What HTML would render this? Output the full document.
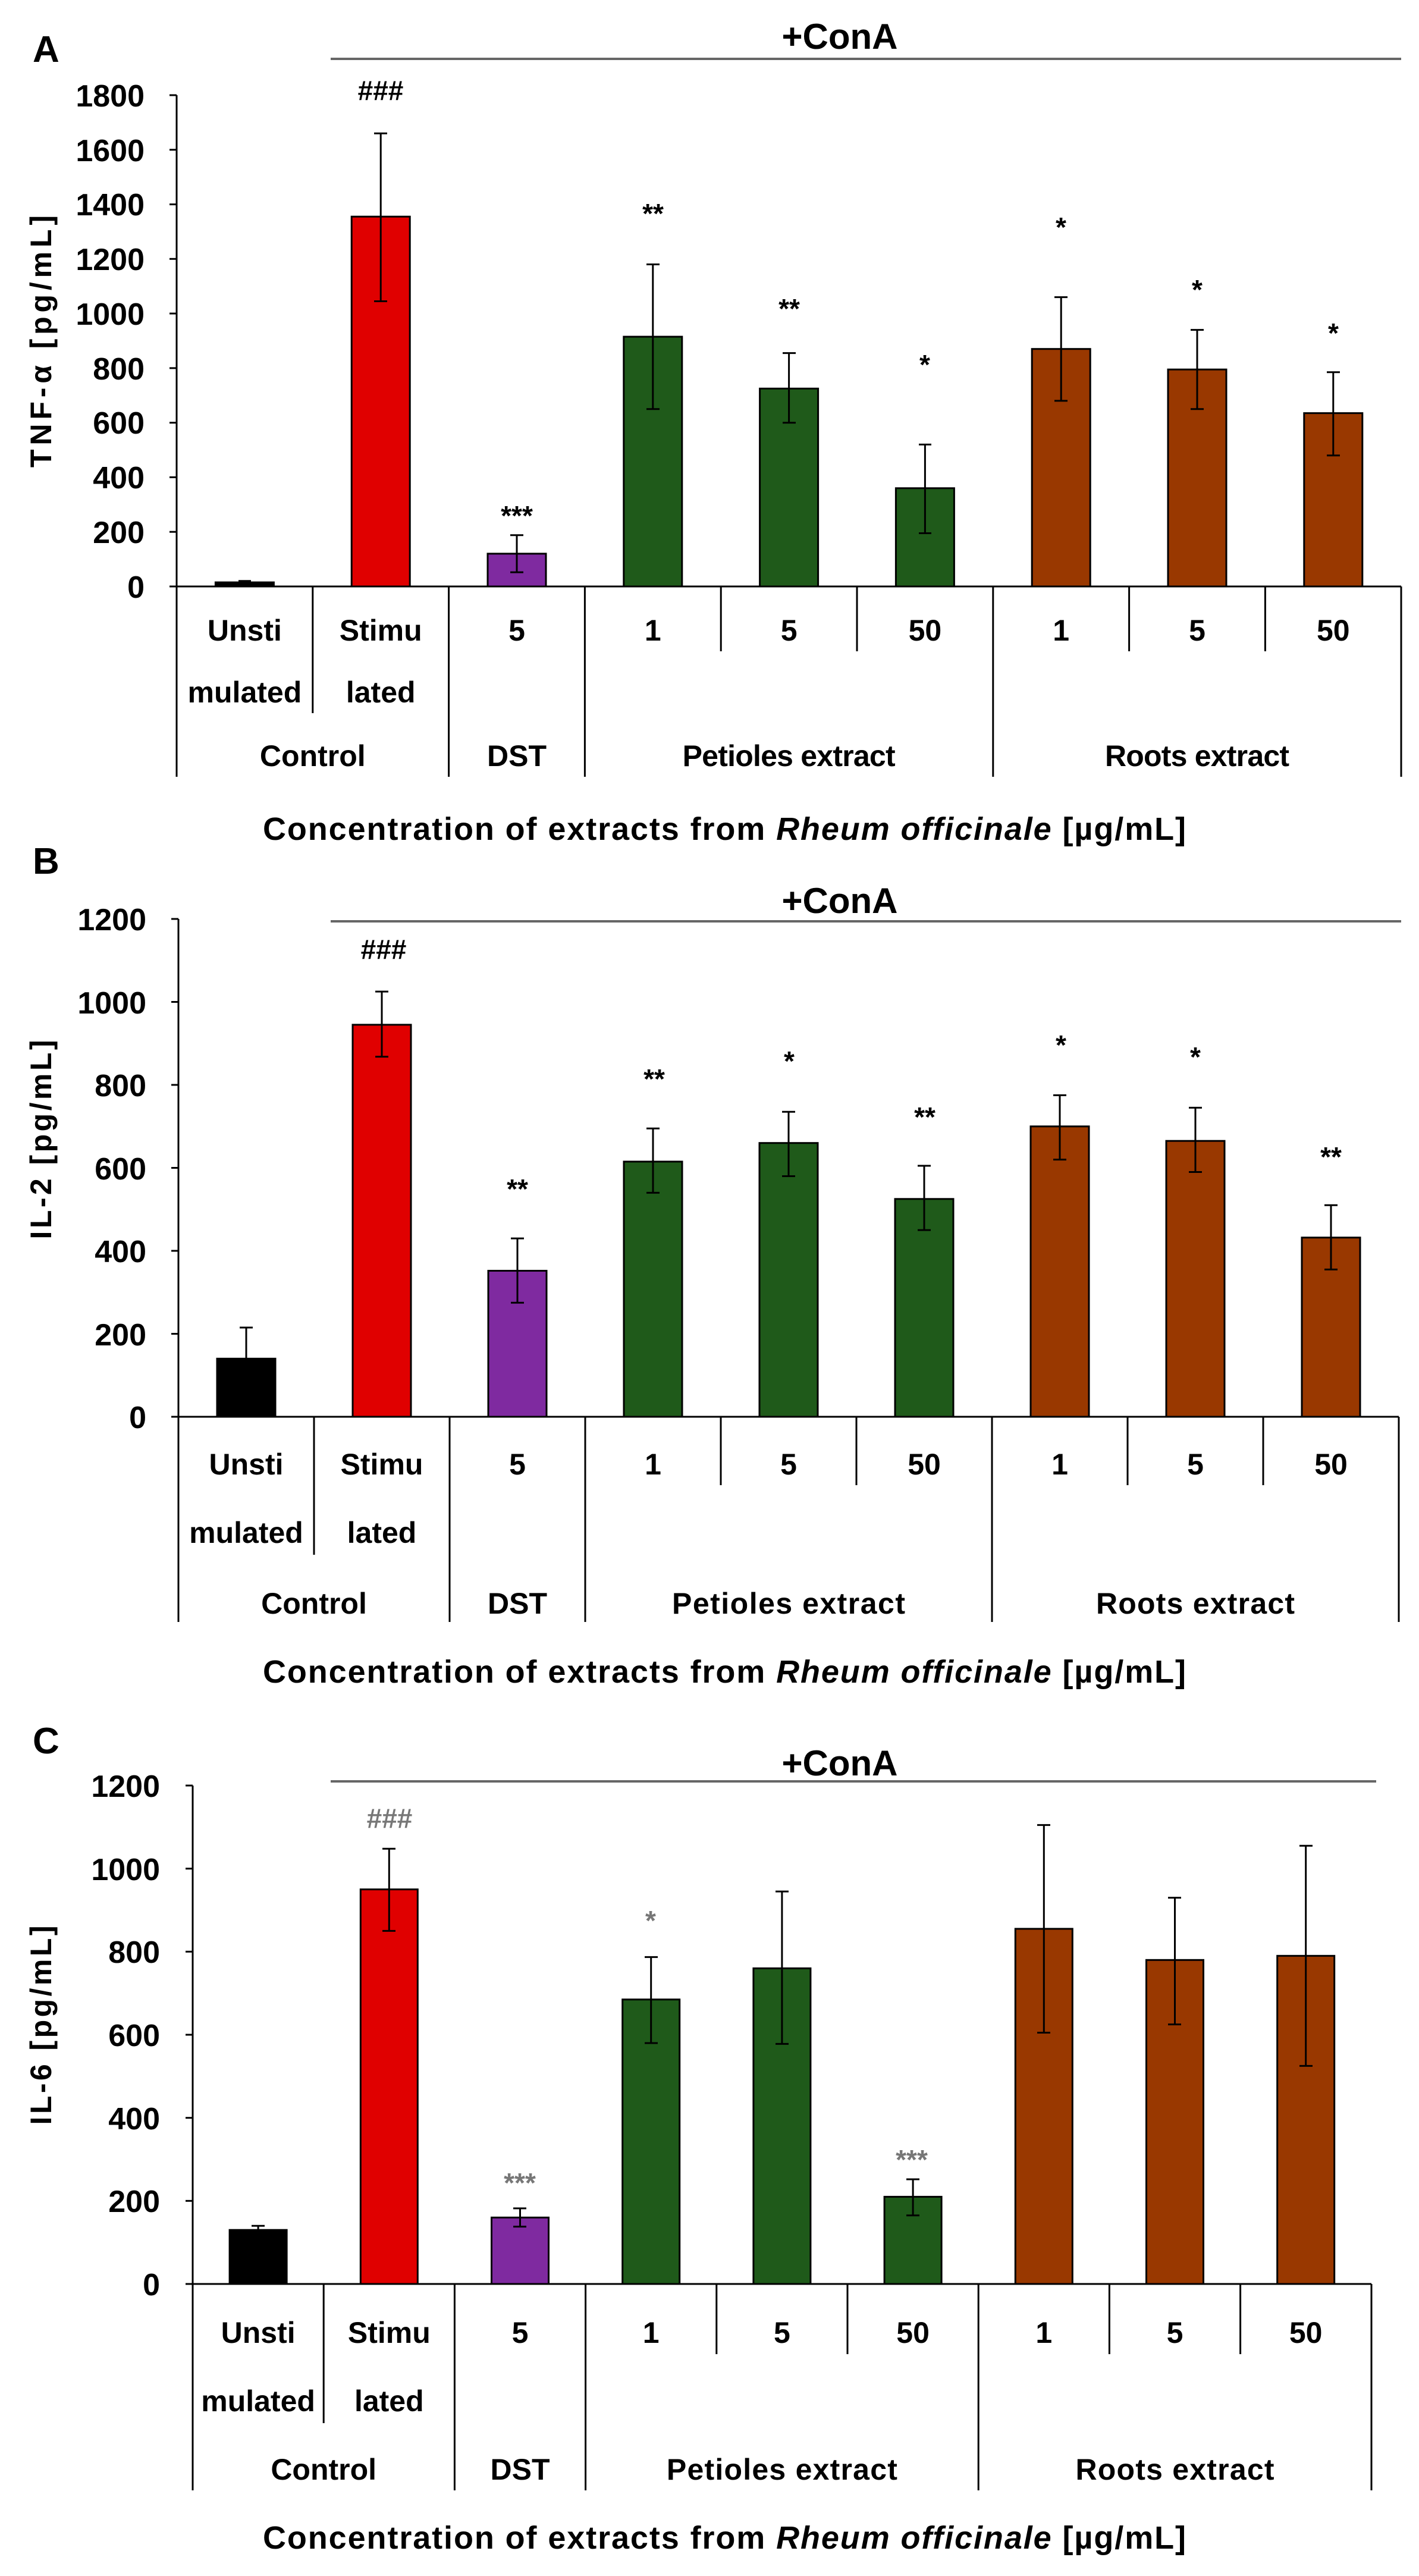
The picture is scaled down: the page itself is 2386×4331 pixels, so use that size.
<!DOCTYPE html>
<html><head><meta charset="utf-8"><style>
html,body{margin:0;padding:0;background:#fff}
svg{display:block}
text{font-family:"Liberation Sans",sans-serif;fill:#000}
.t{font-size:52px;font-weight:bold;text-anchor:end}
.c{font-size:50px;font-weight:bold;text-anchor:middle}
.g{font-size:50px;font-weight:bold;text-anchor:middle}
.a{font-size:46px;font-weight:bold;text-anchor:middle}
.ag{font-size:46px;font-weight:bold;text-anchor:middle;fill:#777}
.p{font-size:62px;font-weight:bold}
.y{font-size:50px;font-weight:bold;text-anchor:middle}
.x{font-size:54px;font-weight:bold;text-anchor:middle}
.cn{font-size:60px;font-weight:bold;text-anchor:middle}
line{stroke:#000;stroke-width:3}
.bar{stroke:#000;stroke-width:3}
.e{stroke:#000;stroke-width:3}
</style></head><body>
<svg width="2386" height="4331" viewBox="0 0 2386 4331" xmlns="http://www.w3.org/2000/svg">

<!-- ========== PANEL A ========== -->
<text class="p" x="55" y="104">A</text>
<text class="cn" x="1412" y="82">+ConA</text>
<line x1="556" y1="99" x2="2356" y2="99" style="stroke:#666;stroke-width:4"/>
<text class="y" transform="translate(86,574) rotate(-90)" textLength="424">TNF-α [pg/mL]</text>
<!-- ticks -->
<line x1="297" y1="160" x2="297" y2="986"/>
<g>
<line x1="285" y1="160" x2="297" y2="160"/><line x1="285" y1="251.8" x2="297" y2="251.8"/><line x1="285" y1="343.6" x2="297" y2="343.6"/><line x1="285" y1="435.3" x2="297" y2="435.3"/><line x1="285" y1="527.1" x2="297" y2="527.1"/><line x1="285" y1="618.9" x2="297" y2="618.9"/><line x1="285" y1="710.7" x2="297" y2="710.7"/><line x1="285" y1="802.4" x2="297" y2="802.4"/><line x1="285" y1="894.2" x2="297" y2="894.2"/><line x1="285" y1="986" x2="297" y2="986"/>
</g>
<text class="t" x="243" y="179">1800</text><text class="t" x="243" y="271">1600</text><text class="t" x="243" y="362">1400</text><text class="t" x="243" y="454">1200</text><text class="t" x="243" y="546">1000</text><text class="t" x="243" y="638">800</text><text class="t" x="243" y="729">600</text><text class="t" x="243" y="821">400</text><text class="t" x="243" y="913">200</text><text class="t" x="243" y="1005">0</text>
<!-- bars -->
<rect class="bar" x="362.4" y="979.1" width="98" height="6.9" fill="#000"/>
<rect class="bar" x="591.2" y="364.2" width="98" height="621.8" fill="#e00000"/>
<rect class="bar" x="820" y="930.9" width="98" height="55.1" fill="#7f2aa0"/>
<rect class="bar" x="1048.8" y="566.1" width="98" height="419.9" fill="#1f5a1a"/>
<rect class="bar" x="1277.6" y="653.3" width="98" height="332.7" fill="#1f5a1a"/>
<rect class="bar" x="1506.4" y="820.8" width="98" height="165.2" fill="#1f5a1a"/>
<rect class="bar" x="1735.2" y="586.7" width="98" height="399.3" fill="#993800"/>
<rect class="bar" x="1964" y="621.2" width="98" height="364.8" fill="#993800"/>
<rect class="bar" x="2192.8" y="694.6" width="98" height="291.4" fill="#993800"/>
<!-- error bars -->
<g class="e">
<line x1="411.4" y1="976.8" x2="411.4" y2="981.4"/><line x1="401" y1="976.8" x2="422" y2="976.8"/>
<line x1="640.2" y1="224.2" x2="640.2" y2="506.5"/><line x1="629" y1="224.2" x2="651" y2="224.2"/><line x1="629" y1="506.5" x2="651" y2="506.5"/>
<line x1="869" y1="899.7" x2="869" y2="962.1"/><line x1="858" y1="899.7" x2="880" y2="899.7"/><line x1="858" y1="962.1" x2="880" y2="962.1"/>
<line x1="1097.8" y1="444.5" x2="1097.8" y2="687.7"/><line x1="1087" y1="444.5" x2="1109" y2="444.5"/><line x1="1087" y1="687.7" x2="1109" y2="687.7"/>
<line x1="1326.6" y1="593.6" x2="1326.6" y2="710.7"/><line x1="1316" y1="593.6" x2="1338" y2="593.6"/><line x1="1316" y1="710.7" x2="1338" y2="710.7"/>
<line x1="1555.4" y1="747.4" x2="1555.4" y2="896.5"/><line x1="1545" y1="747.4" x2="1566" y2="747.4"/><line x1="1545" y1="896.5" x2="1566" y2="896.5"/>
<line x1="1784.2" y1="499.6" x2="1784.2" y2="673.9"/><line x1="1773" y1="499.6" x2="1795" y2="499.6"/><line x1="1773" y1="673.9" x2="1795" y2="673.9"/>
<line x1="2013" y1="554.6" x2="2013" y2="687.7"/><line x1="2002" y1="554.6" x2="2024" y2="554.6"/><line x1="2002" y1="687.7" x2="2024" y2="687.7"/>
<line x1="2241.8" y1="625.8" x2="2241.8" y2="765.7"/><line x1="2231" y1="625.8" x2="2253" y2="625.8"/><line x1="2231" y1="765.7" x2="2253" y2="765.7"/>
</g>
<!-- annotations -->
<text class="a" x="640" y="168">###</text>
<text class="a" x="869" y="883">***</text>
<text class="a" x="1098" y="375">**</text>
<text class="a" x="1327" y="535">**</text>
<text class="a" x="1555" y="629">*</text>
<text class="a" x="1784" y="398">*</text>
<text class="a" x="2013" y="503">*</text>
<text class="a" x="2242" y="576">*</text>
<!-- x axis & table -->
<line x1="297" y1="986" x2="2356" y2="986"/>
<line x1="297" y1="986" x2="297" y2="1306"/>
<line x1="525.8" y1="986" x2="525.8" y2="1199"/>
<line x1="754.6" y1="986" x2="754.6" y2="1306"/>
<line x1="983.4" y1="986" x2="983.4" y2="1306"/>
<line x1="1212.2" y1="986" x2="1212.2" y2="1095"/>
<line x1="1441" y1="986" x2="1441" y2="1095"/>
<line x1="1669.8" y1="986" x2="1669.8" y2="1306"/>
<line x1="1898.6" y1="986" x2="1898.6" y2="1095"/>
<line x1="2127.4" y1="986" x2="2127.4" y2="1095"/>
<line x1="2356" y1="986" x2="2356" y2="1306"/>
<text class="c" x="411.4" y="1077">Unsti</text><text class="c" x="640.2" y="1077">Stimu</text><text class="c" x="869" y="1077">5</text><text class="c" x="1097.8" y="1077">1</text><text class="c" x="1326.6" y="1077">5</text><text class="c" x="1555.4" y="1077">50</text><text class="c" x="1784.2" y="1077">1</text><text class="c" x="2013" y="1077">5</text><text class="c" x="2241.8" y="1077">50</text>
<text class="c" x="411.4" y="1181">mulated</text><text class="c" x="640.2" y="1181">lated</text>
<text class="g" x="525.8" y="1288">Control</text><text class="g" x="869" y="1288">DST</text><text class="g" x="1326.6" y="1288" textLength="358">Petioles extract</text><text class="g" x="2013" y="1288" textLength="310">Roots extract</text>
<text class="x" x="1218" y="1412" textLength="1552">Concentration of extracts from <tspan font-style="italic">Rheum officinale</tspan> [µg/mL]</text>

<!-- ========== PANEL B ========== -->
<text class="p" x="55" y="1469">B</text>
<text class="cn" x="1412" y="1535">+ConA</text>
<line x1="556" y1="1549" x2="2356" y2="1549" style="stroke:#666;stroke-width:4"/>
<text class="y" transform="translate(86,1916) rotate(-90)" textLength="335">IL-2 [pg/mL]</text>
<line x1="300" y1="1545" x2="300" y2="2382"/>
<line x1="288" y1="1545" x2="300" y2="1545"/><line x1="288" y1="1684.5" x2="300" y2="1684.5"/><line x1="288" y1="1824" x2="300" y2="1824"/><line x1="288" y1="1963.5" x2="300" y2="1963.5"/><line x1="288" y1="2103" x2="300" y2="2103"/><line x1="288" y1="2242.5" x2="300" y2="2242.5"/><line x1="288" y1="2382" x2="300" y2="2382"/>
<text class="t" x="246" y="1564">1200</text><text class="t" x="246" y="1704">1000</text><text class="t" x="246" y="1843">800</text><text class="t" x="246" y="1983">600</text><text class="t" x="246" y="2122">400</text><text class="t" x="246" y="2262">200</text><text class="t" x="246" y="2401">0</text>
<rect class="bar" x="365" y="2284.3" width="98" height="97.7" fill="#000"/>
<rect class="bar" x="593" y="1722.9" width="98" height="659.1" fill="#e00000"/>
<rect class="bar" x="821" y="2136.5" width="98" height="245.5" fill="#7f2aa0"/>
<rect class="bar" x="1049" y="1953" width="98" height="429" fill="#1f5a1a"/>
<rect class="bar" x="1277" y="1921.7" width="98" height="460.3" fill="#1f5a1a"/>
<rect class="bar" x="1505" y="2015.8" width="98" height="366.2" fill="#1f5a1a"/>
<rect class="bar" x="1733" y="1893.8" width="98" height="488.2" fill="#993800"/>
<rect class="bar" x="1961" y="1918.2" width="98" height="463.8" fill="#993800"/>
<rect class="bar" x="2189" y="2080.7" width="98" height="301.3" fill="#993800"/>
<g class="e">
<line x1="414" y1="2232" x2="414" y2="2336.7"/><line x1="403" y1="2232" x2="425" y2="2232"/>
<line x1="642" y1="1667.1" x2="642" y2="1776.6"/><line x1="631" y1="1667.1" x2="653" y2="1667.1"/><line x1="631" y1="1776.6" x2="653" y2="1776.6"/>
<line x1="870" y1="2082.1" x2="870" y2="2190.2"/><line x1="859" y1="2082.1" x2="881" y2="2082.1"/><line x1="859" y1="2190.2" x2="881" y2="2190.2"/>
<line x1="1098" y1="1897.2" x2="1098" y2="2005.4"/><line x1="1087" y1="1897.2" x2="1109" y2="1897.2"/><line x1="1087" y1="2005.4" x2="1109" y2="2005.4"/>
<line x1="1326" y1="1869.3" x2="1326" y2="1977.5"/><line x1="1315" y1="1869.3" x2="1337" y2="1869.3"/><line x1="1315" y1="1977.5" x2="1337" y2="1977.5"/>
<line x1="1554" y1="1960" x2="1554" y2="2068.1"/><line x1="1543" y1="1960" x2="1565" y2="1960"/><line x1="1543" y1="2068.1" x2="1565" y2="2068.1"/>
<line x1="1782" y1="1841.4" x2="1782" y2="1949.6"/><line x1="1771" y1="1841.4" x2="1793" y2="1841.4"/><line x1="1771" y1="1949.6" x2="1793" y2="1949.6"/>
<line x1="2010" y1="1862.4" x2="2010" y2="1970.5"/><line x1="1999" y1="1862.4" x2="2021" y2="1862.4"/><line x1="1999" y1="1970.5" x2="2021" y2="1970.5"/>
<line x1="2238" y1="2026.3" x2="2238" y2="2134.4"/><line x1="2227" y1="2026.3" x2="2249" y2="2026.3"/><line x1="2227" y1="2134.4" x2="2249" y2="2134.4"/>
</g>
<text class="a" x="645" y="1612">###</text>
<text class="a" x="870" y="2015">**</text>
<text class="a" x="1100" y="1830">**</text>
<text class="a" x="1327" y="1800">*</text>
<text class="a" x="1555" y="1894">**</text>
<text class="a" x="1784" y="1773">*</text>
<text class="a" x="2010" y="1793">*</text>
<text class="a" x="2238" y="1961">**</text>
<line x1="300" y1="2382" x2="2352" y2="2382"/>
<line x1="300" y1="2382" x2="300" y2="2727"/>
<line x1="528" y1="2382" x2="528" y2="2614"/>
<line x1="756" y1="2382" x2="756" y2="2727"/>
<line x1="984" y1="2382" x2="984" y2="2727"/>
<line x1="1212" y1="2382" x2="1212" y2="2497"/>
<line x1="1440" y1="2382" x2="1440" y2="2497"/>
<line x1="1668" y1="2382" x2="1668" y2="2727"/>
<line x1="1896" y1="2382" x2="1896" y2="2497"/>
<line x1="2124" y1="2382" x2="2124" y2="2497"/>
<line x1="2352" y1="2382" x2="2352" y2="2727"/>
<text class="c" x="414" y="2479">Unsti</text><text class="c" x="642" y="2479">Stimu</text><text class="c" x="870" y="2479">5</text><text class="c" x="1098" y="2479">1</text><text class="c" x="1326" y="2479">5</text><text class="c" x="1554" y="2479">50</text><text class="c" x="1782" y="2479">1</text><text class="c" x="2010" y="2479">5</text><text class="c" x="2238" y="2479">50</text>
<text class="c" x="414" y="2594">mulated</text><text class="c" x="642" y="2594">lated</text>
<text class="g" x="528" y="2713">Control</text><text class="g" x="870" y="2713">DST</text><text class="g" x="1326" y="2713" textLength="392">Petioles extract</text><text class="g" x="2010" y="2713" textLength="334">Roots extract</text>
<text class="x" x="1218" y="2829" textLength="1552">Concentration of extracts from <tspan font-style="italic">Rheum officinale</tspan> [µg/mL]</text>

<!-- ========== PANEL C ========== -->
<text class="p" x="55" y="2948">C</text>
<text class="cn" x="1412" y="2985">+ConA</text>
<line x1="556" y1="2995" x2="2314" y2="2995" style="stroke:#666;stroke-width:4"/>
<text class="y" transform="translate(86,3405) rotate(-90)" textLength="335">IL-6 [pg/mL]</text>
<line x1="324" y1="3002" x2="324" y2="3840"/>
<line x1="312" y1="3002" x2="324" y2="3002"/><line x1="312" y1="3141.7" x2="324" y2="3141.7"/><line x1="312" y1="3281.3" x2="324" y2="3281.3"/><line x1="312" y1="3421" x2="324" y2="3421"/><line x1="312" y1="3560.7" x2="324" y2="3560.7"/><line x1="312" y1="3700.3" x2="324" y2="3700.3"/><line x1="312" y1="3840" x2="324" y2="3840"/>
<text class="t" x="269" y="3021">1200</text><text class="t" x="269" y="3161">1000</text><text class="t" x="269" y="3300">800</text><text class="t" x="269" y="3440">600</text><text class="t" x="269" y="3580">400</text><text class="t" x="269" y="3719">200</text><text class="t" x="269" y="3859">0</text>
<rect class="bar" x="386.1" y="3749.2" width="96" height="90.8" fill="#000"/>
<rect class="bar" x="606.3" y="3176.6" width="96" height="663.4" fill="#e00000"/>
<rect class="bar" x="826.5" y="3728.3" width="96" height="111.7" fill="#7f2aa0"/>
<rect class="bar" x="1046.7" y="3361.7" width="96" height="478.3" fill="#1f5a1a"/>
<rect class="bar" x="1266.9" y="3309.3" width="96" height="530.7" fill="#1f5a1a"/>
<rect class="bar" x="1487.1" y="3693.4" width="96" height="146.6" fill="#1f5a1a"/>
<rect class="bar" x="1707.3" y="3242.9" width="96" height="597.1" fill="#993800"/>
<rect class="bar" x="1927.5" y="3295.3" width="96" height="544.7" fill="#993800"/>
<rect class="bar" x="2147.7" y="3288.3" width="96" height="551.7" fill="#993800"/>
<g class="e">
<line x1="434.1" y1="3742.2" x2="434.1" y2="3756.2"/><line x1="423" y1="3742.2" x2="445" y2="3742.2"/>
<line x1="654.3" y1="3108.2" x2="654.3" y2="3246.4"/><line x1="643" y1="3108.2" x2="665" y2="3108.2"/><line x1="643" y1="3246.4" x2="665" y2="3246.4"/>
<line x1="874.5" y1="3712.9" x2="874.5" y2="3743.6"/><line x1="863" y1="3712.9" x2="885" y2="3712.9"/><line x1="863" y1="3743.6" x2="885" y2="3743.6"/>
<line x1="1094.7" y1="3290.4" x2="1094.7" y2="3435"/><line x1="1084" y1="3290.4" x2="1106" y2="3290.4"/><line x1="1084" y1="3435" x2="1106" y2="3435"/>
<line x1="1314.9" y1="3180.1" x2="1314.9" y2="3436.4"/><line x1="1304" y1="3180.1" x2="1326" y2="3180.1"/><line x1="1304" y1="3436.4" x2="1326" y2="3436.4"/>
<line x1="1535.1" y1="3664" x2="1535.1" y2="3724.8"/><line x1="1524" y1="3664" x2="1546" y2="3664"/><line x1="1524" y1="3724.8" x2="1546" y2="3724.8"/>
<line x1="1755.3" y1="3068.4" x2="1755.3" y2="3417.5"/><line x1="1744" y1="3068.4" x2="1766" y2="3068.4"/><line x1="1744" y1="3417.5" x2="1766" y2="3417.5"/>
<line x1="1975.5" y1="3190.6" x2="1975.5" y2="3403.6"/><line x1="1964" y1="3190.6" x2="1986" y2="3190.6"/><line x1="1964" y1="3403.6" x2="1986" y2="3403.6"/>
<line x1="2195.7" y1="3103.3" x2="2195.7" y2="3473.4"/><line x1="2185" y1="3103.3" x2="2207" y2="3103.3"/><line x1="2185" y1="3473.4" x2="2207" y2="3473.4"/>
</g>
<text class="ag" x="655" y="3073">###</text>
<text class="ag" x="1094" y="3245">*</text>
<text class="ag" x="874" y="3686">***</text>
<text class="ag" x="1533" y="3647">***</text>
<line x1="324" y1="3840" x2="2306" y2="3840"/>
<line x1="324" y1="3840" x2="324" y2="4187"/>
<line x1="544.2" y1="3840" x2="544.2" y2="4074"/>
<line x1="764.4" y1="3840" x2="764.4" y2="4187"/>
<line x1="984.6" y1="3840" x2="984.6" y2="4187"/>
<line x1="1204.8" y1="3840" x2="1204.8" y2="3958"/>
<line x1="1425" y1="3840" x2="1425" y2="3958"/>
<line x1="1645.2" y1="3840" x2="1645.2" y2="4187"/>
<line x1="1865.4" y1="3840" x2="1865.4" y2="3958"/>
<line x1="2085.6" y1="3840" x2="2085.6" y2="3958"/>
<line x1="2306" y1="3840" x2="2306" y2="4187"/>
<text class="c" x="434.1" y="3939">Unsti</text><text class="c" x="654.3" y="3939">Stimu</text><text class="c" x="874.5" y="3939">5</text><text class="c" x="1094.7" y="3939">1</text><text class="c" x="1314.9" y="3939">5</text><text class="c" x="1535.1" y="3939">50</text><text class="c" x="1755.3" y="3939">1</text><text class="c" x="1975.5" y="3939">5</text><text class="c" x="2195.7" y="3939">50</text>
<text class="c" x="434.1" y="4054">mulated</text><text class="c" x="654.3" y="4054">lated</text>
<text class="g" x="544.2" y="4169">Control</text><text class="g" x="874.5" y="4169">DST</text><text class="g" x="1314.9" y="4169" textLength="388">Petioles extract</text><text class="g" x="1975.5" y="4169" textLength="334">Roots extract</text>
<text class="x" x="1218" y="4285" textLength="1552">Concentration of extracts from <tspan font-style="italic">Rheum officinale</tspan> [µg/mL]</text>
</svg>
</body></html>
